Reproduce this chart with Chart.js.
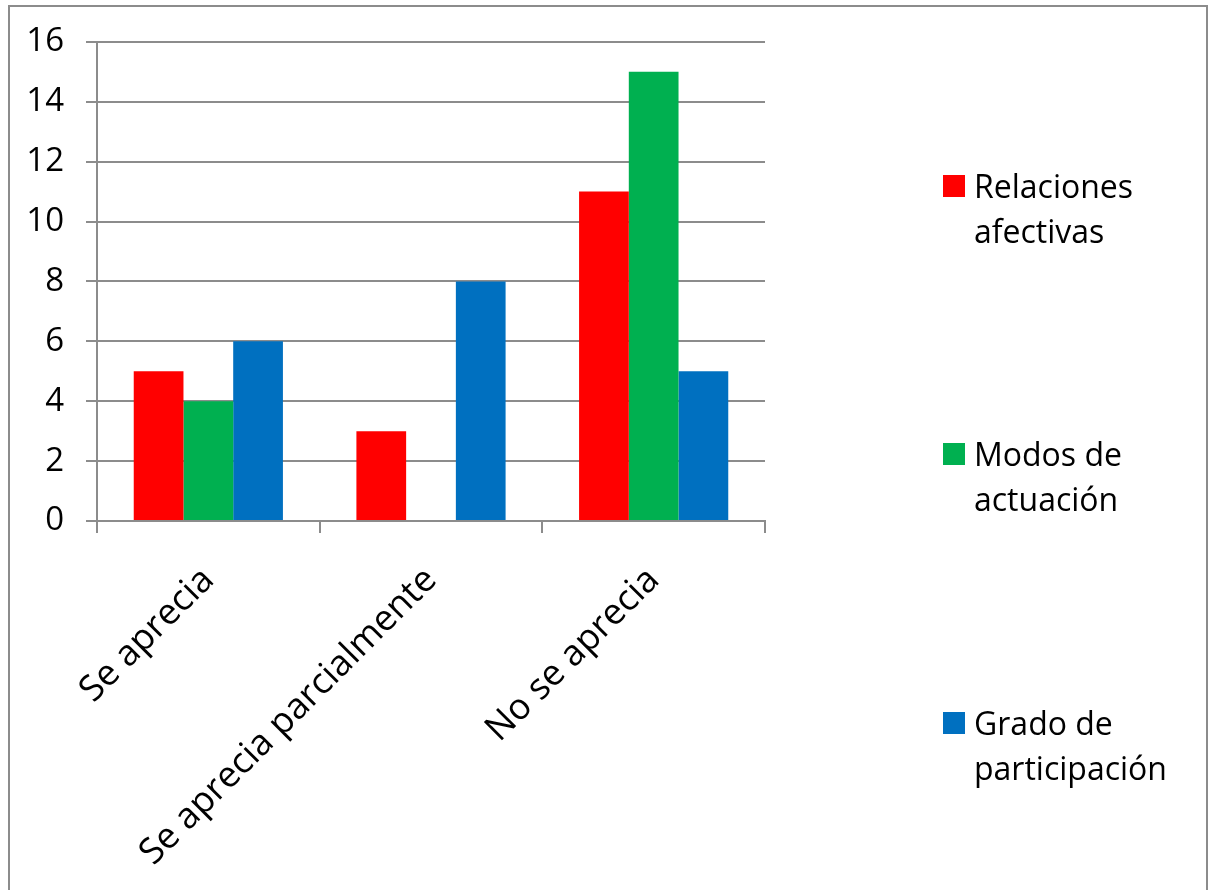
<!DOCTYPE html>
<html>
<head>
<meta charset="utf-8">
<script src="https://cdn.jsdelivr.net/npm/chart.js@4.4.1/dist/chart.umd.min.js"></script>
<style>
  html, body { margin: 0; padding: 0; background: #fff; }
  #wrap { position: relative; width: 1212px; height: 890px; overflow: hidden; }
  #frame { position: absolute; left: 8px; top: 5px; width: 1200px; height: 900px; border: 2px solid #8c8c8c; box-sizing: border-box; }
  canvas { position: absolute; left: 0; top: 0; }
</style>
</head>
<body>
<div id="wrap">
  <div id="frame"></div>
  <canvas id="myChart" width="1212" height="890"></canvas>
</div>
<script>
const categories = ["Se aprecia", "Se aprecia parcialmente", "No se aprecia"];
const relaciones = [5, 3, 11];
const modos = [4, 0, 15];
const grado = [6, 8, 5];
const seriesNames = [["Relaciones", "afectivas"], ["Modos de", "actuación"], ["Grado de", "participación"]];
const seriesColors = ["#ff0000", "#00b050", "#0070c0"];
const yTicks = [0, 2, 4, 6, 8, 10, 12, 14, 16];

const FONT = "'Open Sans', sans-serif";
const gridColor = "#8c8c8c";

// legend drawn by hand so labels can wrap on two lines like the original
const sideLegend = {
    id: "sideLegend",
    afterDraw(chart) {
        const ctx = chart.ctx;
        const tops = [175, 443, 712];
        ctx.save();
        ctx.font = "32px " + FONT;
        ctx.textBaseline = "alphabetic";
        ctx.textAlign = "left";
        chart.data.datasets.forEach((ds, i) => {
            const y = tops[i];
            ctx.fillStyle = ds.backgroundColor;
            ctx.fillRect(943, y, 22, 22);
            ctx.fillStyle = "#000";
            seriesNames[i].forEach((line, j) => {
                ctx.fillText(line, 974, y + 23 + j * 45);
            });
        });
        ctx.restore();
    }
};

new Chart(document.getElementById("myChart"), {
    type: "bar",
    data: {
        labels: categories,
        datasets: [
            { label: seriesNames[0].join(" "), data: relaciones, backgroundColor: seriesColors[0] },
            { label: seriesNames[1].join(" "), data: modos, backgroundColor: seriesColors[1] },
            { label: seriesNames[2].join(" "), data: grado, backgroundColor: seriesColors[2] }
        ]
    },
    options: {
        responsive: false,
        animation: false,
        layout: { padding: { left: 0, right: 447, top: 41, bottom: 0 } },
        datasets: { bar: { categoryPercentage: 0.67, barPercentage: 1.0 } },
        plugins: {
            legend: { display: false },
            tooltip: { enabled: false }
        },
        scales: {
            x: {
                offset: true,
                grid: { drawOnChartArea: false, drawTicks: true, tickLength: 12, color: gridColor, lineWidth: 2 },
                border: { color: gridColor, width: 2 },
                ticks: { color: "#000", font: { family: FONT, size: 36 }, maxRotation: 45, minRotation: 45, padding: 26 },
                afterFit(scale) { scale.height = 890 - 521; }
            },
            y: {
                min: 0,
                max: 16,
                afterBuildTicks(scale) { scale.ticks = yTicks.map(v => ({ value: v })); },
                grid: { color: gridColor, lineWidth: 2, tickLength: 11 },
                border: { color: gridColor, width: 2 },
                ticks: { color: "#000", font: { family: FONT, size: 33 }, padding: 22 },
                afterFit(scale) { scale.width = 97; }
            }
        }
    },
    plugins: [sideLegend]
});
</script>
</body>
</html>
